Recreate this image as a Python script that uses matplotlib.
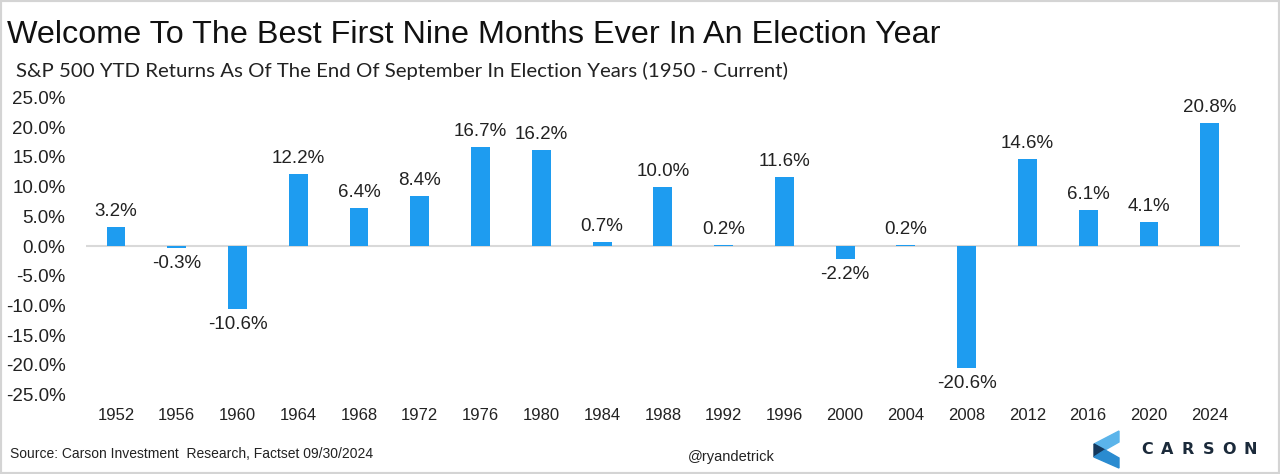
import matplotlib
matplotlib.use("Agg")
import matplotlib.pyplot as plt
from matplotlib.patches import Polygon, Rectangle

years = ["1952", "1956", "1960", "1964", "1968", "1972", "1976", "1980", "1984", "1988",
         "1992", "1996", "2000", "2004", "2008", "2012", "2016", "2020", "2024"]
returns = [3.2, -0.3, -10.6, 12.2, 6.4, 8.4, 16.7, 16.2, 0.7, 10.0,
           0.2, 11.6, -2.2, 0.2, -20.6, 14.6, 6.1, 4.1, 20.8]
yticks = [25, 20, 15, 10, 5, 0, -5, -10, -15, -20, -25]

title = "Welcome To The Best First Nine Months Ever In An Election Year"
subtitle = "S&P 500 YTD Returns As Of The End Of September In Election Years (1950 - Current)"
source = "Source: Carson Investment  Research, Factset 09/30/2024"
handle = "@ryandetrick"
brand = "CARSON"

BAR = "#1E9CF0"
plt.rcParams['font.family'] = ['Liberation Sans', 'DejaVu Sans']

fig = plt.figure(figsize=(12.8, 4.74), dpi=100)
ax = fig.add_axes([0.0669, 0.168, 0.9019, 0.626])
x = list(range(len(years)))
ax.bar(x, returns, width=0.31, color=BAR, zorder=3)
ax.axhline(0, color="#d9d9d9", lw=1.5, zorder=2)
ax.set_xlim(-0.5, len(years) - 0.5)
ax.set_ylim(-25, 25)
ax.set_yticks(yticks)
ax.set_yticklabels([f"{v:.1f}%" for v in yticks], fontsize=13.5, color="#222222")
ax.set_xticks(x)
ax.set_xticklabels(years, fontsize=12, color="#222222")
ax.tick_params(axis="both", length=0)
ax.tick_params(axis="y", pad=14.5)
ax.tick_params(axis="x", pad=10)
for s in ax.spines.values():
    s.set_visible(False)

for xi, v in zip(x, returns):
    if v >= 0:
        ax.annotate(f"{v:.1f}%", (xi, v), xytext=(0, 5), textcoords="offset points",
                    ha="center", va="bottom", fontsize=13.5, color="#222222")
    else:
        ax.annotate(f"{v:.1f}%", (xi, v), xytext=(0, -5), textcoords="offset points",
                    ha="center", va="top", fontsize=13.5, color="#222222")

fig.text(7 / 1280, 1 - 43 / 474, title, fontsize=23.3, color="#111111", ha="left", va="baseline")
fig.text(16 / 1280, 1 - 77 / 474, subtitle, fontsize=14.7, color="#222222", ha="left",
         va="baseline", family=["Lato", "DejaVu Sans"])
fig.text(10 / 1280, 1 - 458 / 474, source, fontsize=10, color="#222222", ha="left", va="baseline")
fig.text(688 / 1280, 1 - 461 / 474, handle, fontsize=10.5, color="#222222", ha="left", va="baseline")

# Carson logo
def fp(px, py):
    return (px / 1280, 1 - py / 474)

light = Polygon([fp(1119, 431), fp(1119, 442), fp(1105, 450), fp(1094, 444)], closed=True,
                transform=fig.transFigure, color="#5BB4EA")
dark = Polygon([fp(1094, 444), fp(1105, 450), fp(1094, 457)], closed=True,
               transform=fig.transFigure, color="#14395E")
mid = Polygon([fp(1094, 457), fp(1105, 450), fp(1119, 458), fp(1119, 468)], closed=True,
              transform=fig.transFigure, color="#2A8BD0")
for p in (light, dark, mid):
    fig.patches.append(p)
letter_px = [1147, 1167.5, 1188, 1208.5, 1229, 1250]
for ch, px in zip(brand, letter_px):
    fig.text(px / 1280, 1 - 454.5 / 474, ch, fontsize=11.5, color="#1B2A3A",
             ha="center", va="baseline", family=["DejaVu Sans"], fontweight="bold")

fig.patches.append(Rectangle((0, 0), 1, 1, transform=fig.transFigure, fill=False,
                             edgecolor="#d4d4d4", lw=3))

fig.savefig("out.png", dpi=100, facecolor="white")
